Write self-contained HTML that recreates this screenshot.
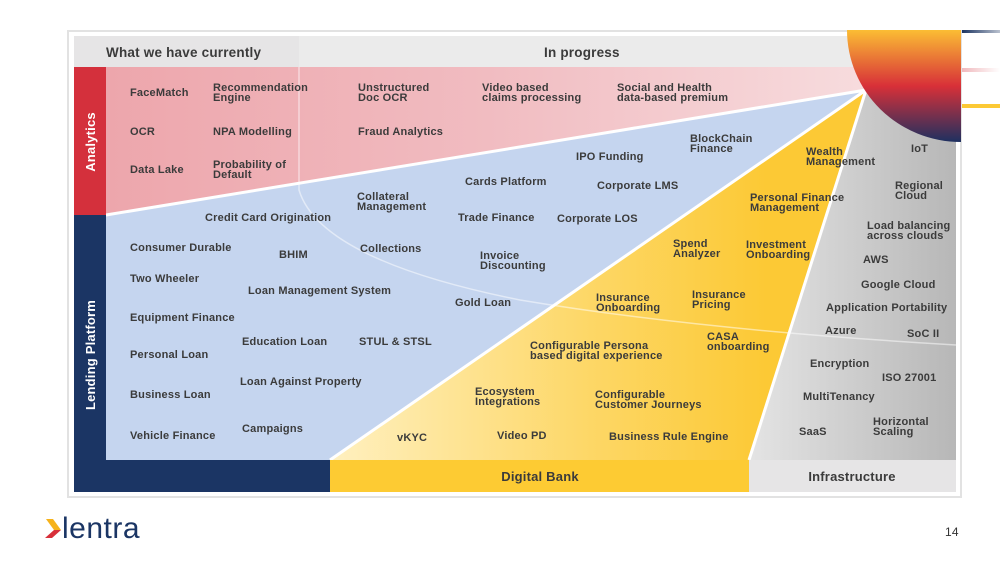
<!DOCTYPE html>
<html><head><meta charset="utf-8"><style>
html,body{margin:0;padding:0;background:#fff;width:1000px;height:563px;overflow:hidden}
svg{font-family:"Liberation Sans",sans-serif;font-weight:bold;font-size:11px;letter-spacing:0.2px}
svg text{fill:#3b3b3b}
</style></head><body>
<svg width="1000" height="563" viewBox="0 0 1000 563" xmlns="http://www.w3.org/2000/svg">
<defs>
<linearGradient id="pk" x1="0" x2="1" y1="0" y2="0"><stop offset="0" stop-color="#eda6ac"/><stop offset="0.5" stop-color="#f1bcc1"/><stop offset="1" stop-color="#f7dcde"/></linearGradient>
<linearGradient id="yl" x1="0" x2="1" y1="0" y2="0"><stop offset="0" stop-color="#fff0c0"/><stop offset="0.45" stop-color="#fdd766"/><stop offset="0.75" stop-color="#fcc935"/></linearGradient>
<linearGradient id="gr" x1="0" x2="1" y1="0" y2="0"><stop offset="0" stop-color="#e4e4e4"/><stop offset="1" stop-color="#b7b7b7"/></linearGradient>
<linearGradient id="sun" x1="0" x2="0" y1="0" y2="1"><stop offset="0" stop-color="#fbbd34"/><stop offset="0.5" stop-color="#d83038"/><stop offset="1" stop-color="#1e3060"/></linearGradient>
<linearGradient id="ln1" x1="0" x2="1"><stop offset="0" stop-color="#1b3461"/><stop offset="1" stop-color="#1b3461" stop-opacity="0.3"/></linearGradient>
<linearGradient id="ln2" x1="0" x2="1"><stop offset="0" stop-color="#f0b9bd"/><stop offset="1" stop-color="#f0b9bd" stop-opacity="0"/></linearGradient>
</defs>
<rect x="68" y="31" width="893" height="466" fill="#fff" stroke="#e2e2e2" stroke-width="2"/>
<rect x="74" y="36" width="225" height="31" fill="#e6e5e6"/>
<rect x="299" y="36" width="560" height="31" fill="#ebebeb"/>
<text x="106" y="57" font-size="13.5">What we have currently</text>
<text x="544" y="57" font-size="13.5">In progress</text>
<polygon points="106,67 870,67 870,90 106,215" fill="url(#pk)"/>
<polygon points="106,215 866,90 330,460 106,460" fill="#c5d5ef"/>
<polygon points="866,90 330,460 749,460 910,120" fill="url(#yl)"/>
<polygon points="866,90 956,90 956,460 749,460" fill="url(#gr)"/>
<polyline points="106,215 866,90 330,460" fill="none" stroke="#fff" stroke-width="3"/>
<line x1="866" y1="90" x2="749" y2="460" stroke="#fff" stroke-width="3"/>
<path d="M299,67 L299,190 Q320,260 520,300 Q700,330 956,345" fill="none" stroke="#fff" stroke-opacity="0.5" stroke-width="1.5"/>
<path d="M847,30 L961,30 L961,142 A114,112 0 0 1 847,30 Z" fill="url(#sun)"/>
<rect x="962" y="30" width="38" height="3" fill="url(#ln1)"/>
<rect x="962" y="68" width="38" height="4" fill="url(#ln2)"/>
<rect x="962" y="104" width="38" height="4" fill="#fcc935"/>
<rect x="74" y="67" width="32" height="148" fill="#d4303c"/>
<rect x="74" y="215" width="32" height="277" fill="#1b3564"/>
<rect x="74" y="460" width="256" height="32" fill="#1b3564"/>
<rect x="330" y="460" width="419" height="32" fill="#fdcb33"/>
<rect x="749" y="460" width="207" height="32" fill="#e6e5e6"/>
<text transform="translate(95,142) rotate(-90)" text-anchor="middle" font-size="13" style="fill:#fff">Analytics</text>
<text transform="translate(95,355) rotate(-90)" text-anchor="middle" font-size="13" style="fill:#fff">Lending  Platform</text>
<text x="540" y="481" text-anchor="middle" font-size="13">Digital  Bank</text>
<text x="852" y="481" text-anchor="middle" font-size="13">Infrastructure</text>
<text x="130" y="96">FaceMatch</text>
<text x="213" y="91">Recommendation</text><text x="213" y="101">Engine</text>
<text x="130" y="135">OCR</text>
<text x="213" y="135">NPA Modelling</text>
<text x="130" y="173">Data Lake</text>
<text x="213" y="168">Probability of</text><text x="213" y="178">Default</text>
<text x="358" y="91">Unstructured</text><text x="358" y="101">Doc OCR</text>
<text x="358" y="135">Fraud Analytics</text>
<text x="482" y="91">Video based</text><text x="482" y="101">claims processing</text>
<text x="617" y="91">Social and Health</text><text x="617" y="101">data-based premium</text>
<text x="205" y="221">Credit Card Origination</text>
<text x="130" y="251">Consumer Durable</text>
<text x="279" y="258">BHIM</text>
<text x="130" y="282">Two Wheeler</text>
<text x="248" y="294">Loan Management System</text>
<text x="130" y="321">Equipment Finance</text>
<text x="242" y="345">Education Loan</text>
<text x="359" y="345">STUL &amp; STSL</text>
<text x="130" y="358">Personal Loan</text>
<text x="240" y="385">Loan Against Property</text>
<text x="130" y="398">Business Loan</text>
<text x="242" y="432">Campaigns</text>
<text x="130" y="439">Vehicle Finance</text>
<text x="357" y="200">Collateral</text><text x="357" y="210">Management</text>
<text x="360" y="252">Collections</text>
<text x="465" y="185">Cards Platform</text>
<text x="458" y="221">Trade Finance</text>
<text x="480" y="259">Invoice</text><text x="480" y="269">Discounting</text>
<text x="455" y="306">Gold Loan</text>
<text x="576" y="160">IPO Funding</text>
<text x="597" y="189">Corporate LMS</text>
<text x="557" y="222">Corporate LOS</text>
<text x="690" y="142">BlockChain</text><text x="690" y="152">Finance</text>
<text x="806" y="155">Wealth</text><text x="806" y="165">Management</text>
<text x="750" y="201">Personal Finance</text><text x="750" y="211">Management</text>
<text x="673" y="247">Spend</text><text x="673" y="257">Analyzer</text>
<text x="746" y="248">Investment</text><text x="746" y="258">Onboarding</text>
<text x="596" y="301">Insurance</text><text x="596" y="311">Onboarding</text>
<text x="692" y="298">Insurance</text><text x="692" y="308">Pricing</text>
<text x="707" y="340">CASA</text><text x="707" y="350">onboarding</text>
<text x="530" y="349">Configurable Persona</text><text x="530" y="359">based digital experience</text>
<text x="475" y="395">Ecosystem</text><text x="475" y="405">Integrations</text>
<text x="595" y="398">Configurable</text><text x="595" y="408">Customer Journeys</text>
<text x="397" y="441">vKYC</text>
<text x="497" y="439">Video PD</text>
<text x="609" y="440">Business Rule Engine</text>
<text x="911" y="152">IoT</text>
<text x="895" y="189">Regional</text><text x="895" y="199">Cloud</text>
<text x="867" y="229">Load balancing</text><text x="867" y="239">across clouds</text>
<text x="863" y="263">AWS</text>
<text x="861" y="288">Google Cloud</text>
<text x="826" y="311">Application Portability</text>
<text x="825" y="334">Azure</text>
<text x="907" y="337">SoC II</text>
<text x="810" y="367">Encryption</text>
<text x="882" y="381">ISO 27001</text>
<text x="803" y="400">MultiTenancy</text>
<text x="799" y="435">SaaS</text>
<text x="873" y="425">Horizontal</text><text x="873" y="435">Scaling</text>
<polygon points="46,519 53,519 61,530 54,530" fill="#f6b21b"/>
<polygon points="54,530 61,530 52,538 45,538" fill="#d8303a"/>
<text x="62" y="538" font-size="30" style="fill:#1b3564;font-weight:normal;letter-spacing:0.5px">lentra</text>
<text x="945" y="536" font-size="12" style="fill:#333;font-weight:normal">14</text>
</svg>
</body></html>
